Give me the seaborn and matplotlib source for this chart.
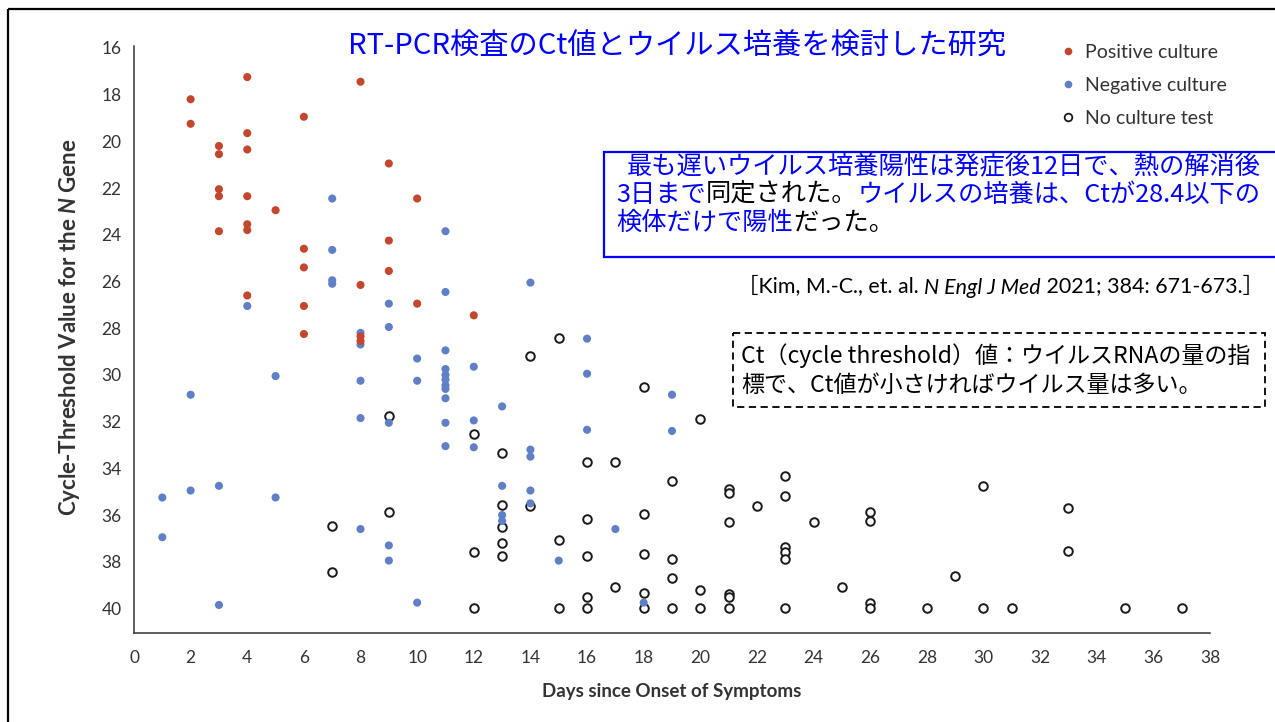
import numpy as np
import pandas as pd
import matplotlib
matplotlib.use("Agg")
import matplotlib.pyplot as plt
import seaborn as sns
from matplotlib.patches import Rectangle
from matplotlib.lines import Line2D

# ---------------- data ----------------
pos_days = [2, 2,
            3, 3, 3, 3, 3,
            4, 4, 4, 4, 4, 4, 4,
            5,
            6, 6, 6, 6, 6,
            8, 8, 8, 8,
            9, 9, 9,
            10, 10,
            12]
pos_ct = [18.2, 19.25,
          20.2, 20.55, 22.05, 22.35, 23.85,
          17.25, 19.65, 20.35, 22.35, 23.55, 23.8, 26.6,
          22.95,
          18.95, 24.6, 25.4, 27.05, 28.25,
          17.45, 26.15, 28.35, 28.55,
          20.95, 24.25, 25.55,
          22.45, 26.95,
          27.45]

neg_days = [1, 1, 2, 2, 3, 3, 4, 5, 5,
            7, 7, 7, 7,
            8, 8, 8, 8, 8,
            9, 9, 9, 9, 9,
            10, 10, 10,
            11, 11, 11, 11, 11, 11, 11, 11, 11, 11, 11,
            12, 12, 12,
            13, 13, 13, 13,
            14, 14, 14, 14, 14,
            15, 16, 16, 16, 17, 18, 19, 19]
neg_ct = [35.25, 36.95, 30.85, 34.95, 34.75, 39.85, 27.05, 30.05, 35.25,
          22.45, 24.65, 25.95, 26.1,
          28.2, 28.7, 30.25, 31.85, 36.6,
          26.95, 27.95, 32.05, 37.3, 37.95,
          29.3, 30.25, 39.75,
          23.85, 26.45, 28.95, 29.75, 30.0, 30.2, 30.45, 30.6, 31.0, 32.05, 33.05,
          29.65, 31.95, 33.1,
          31.35, 34.75, 36.0, 36.25,
          26.05, 33.2, 33.5, 34.95, 35.5,
          37.95, 28.45, 29.95, 32.35, 36.6, 39.75, 30.85, 32.4]

none_days = [7, 7, 9, 9, 12, 12, 12,
             13, 13, 13, 13, 13,
             14, 14, 15, 15, 15,
             16, 16, 16, 16, 16,
             17, 17,
             18, 18, 18, 18, 18,
             19, 19, 19, 19,
             20, 20, 20,
             21, 21, 21, 21, 21, 21,
             22,
             23, 23, 23, 23, 23, 23,
             24, 25,
             26, 26, 26, 26,
             28, 29, 30, 30, 31, 33, 33, 35, 37]
none_ct = [36.45, 38.45, 31.75, 35.85, 32.55, 37.6, 40.0,
           33.35, 35.55, 36.5, 37.2, 37.75,
           29.2, 35.6, 28.4, 37.05, 40.0,
           33.75, 36.15, 37.75, 39.5, 40.0,
           33.75, 39.1,
           30.5, 35.95, 37.65, 39.35, 40.0,
           34.55, 37.9, 38.7, 40.0,
           31.9, 39.2, 40.0,
           34.9, 35.05, 36.3, 39.4, 39.5, 40.0,
           35.6,
           34.35, 35.2, 37.35, 37.6, 37.9, 40.0,
           36.3, 39.1,
           35.85, 36.25, 39.75, 40.0,
           40.0, 38.6, 34.75, 40.0, 40.0, 35.7, 37.55, 40.0, 40.0]

legend_labels = ["Positive culture", "Negative culture", "No culture test"]
x_ticks = list(range(0, 39, 2))
y_ticks = list(range(16, 41, 2))

title_text = "RT-PCR検査のCt値とウイルス培養を検討した研究"
xlabel_text = "Days since Onset of Symptoms"
ylabel_text = r"Cycle-Threshold Value for the $\mathit{N}$ Gene"

# ---------------- style ----------------
RED = "#C4462D"
BLUE = "#5F80C6"
DARK = "#333333"
PURE_BLUE = "#0000FF"
CJK = ["Noto Sans CJK JP", "DejaVu Sans"]

sns.set_theme(style="white")
plt.rcParams["font.family"] = ["Lato", "Noto Sans CJK JP", "DejaVu Sans"]
plt.rcParams["mathtext.fontset"] = "custom"
plt.rcParams["mathtext.it"] = "Lato:italic:bold"
plt.rcParams["mathtext.rm"] = "Lato:bold"

W, H = 1275, 722
fig = plt.figure(figsize=(W / 100, H / 100), dpi=100)
fig.patch.set_facecolor("white")


def fx(px):
    return px / W


def fy(py):
    return 1 - py / H


ax = fig.add_axes([fx(134), fy(633), fx(1210) - fx(134), fy(46) - fy(633)])

df_pos = pd.DataFrame({"day": pos_days, "ct": pos_ct})
df_neg = pd.DataFrame({"day": neg_days, "ct": neg_ct})
df_none = pd.DataFrame({"day": none_days, "ct": none_ct})

sns.scatterplot(data=df_none, x="day", y="ct", ax=ax, s=38, color="white",
                edgecolor="#1a1a1a", linewidth=1.4, zorder=3, legend=False)
sns.scatterplot(data=df_neg, x="day", y="ct", ax=ax, s=34, color=BLUE,
                edgecolor="none", zorder=4, legend=False)
sns.scatterplot(data=df_pos, x="day", y="ct", ax=ax, s=34, color=RED,
                edgecolor="none", zorder=5, legend=False)

ax.set_xlim(0, 38)
ax.set_ylim(41.05, 15.92)
ax.set_xticks(x_ticks)
ax.set_yticks(y_ticks)
ax.set_xlabel("")
ax.set_ylabel("")
sns.despine(ax=ax)
for sp in ["left", "bottom"]:
    ax.spines[sp].set_color(DARK)
    ax.spines[sp].set_linewidth(1.1)
ax.tick_params(axis="x", direction="out", length=6, width=1.1, color=DARK,
               labelsize=12.5, labelcolor=DARK, pad=6)
ax.tick_params(axis="y", direction="out", length=7, width=1.1, color=DARK,
               labelsize=12.5, labelcolor=DARK, pad=2)

# legend
handles = [
    Line2D([], [], marker="o", ls="none", markersize=5.5, markerfacecolor=RED,
           markeredgecolor="none"),
    Line2D([], [], marker="o", ls="none", markersize=5.5, markerfacecolor=BLUE,
           markeredgecolor="none"),
    Line2D([], [], marker="o", ls="none", markersize=5.5, markerfacecolor="white",
           markeredgecolor="#1a1a1a", markeredgewidth=1.3),
]
leg = ax.legend(handles, legend_labels, loc="upper left",
                bbox_to_anchor=(fx(1061), fy(44)), bbox_transform=fig.transFigure,
                frameon=False, fontsize=14, handlelength=0.7, handletextpad=0.55,
                labelspacing=0.83, borderpad=0, borderaxespad=0)
for t in leg.get_texts():
    t.set_color(DARK)

# ---------------- overlay in pixel coordinates ----------------
ov = fig.add_axes([0, 0, 1, 1], zorder=5)
ov.set_xlim(0, W)
ov.set_ylim(H, 0)
ov.axis("off")

# axis labels
ov.text(672, 692, xlabel_text, ha="center", va="center",
        fontsize=13.5, fontweight="bold", color=DARK)
ov.text(70, 327, ylabel_text, ha="center", va="center", rotation=90,
        fontsize=16, fontweight="bold", color=DARK)

# frame around whole figure
ov.add_patch(Rectangle((8, 9), W + 50, H + 50, fill=False, ec="black", lw=1.6,
                       clip_on=False, zorder=10))
# blue box
ov.add_patch(Rectangle((604, 152), W, 105, fc="white", ec=PURE_BLUE, lw=1.6,
                       clip_on=False, zorder=6))
# dashed box
ov.add_patch(Rectangle((733, 333), 532, 74, fc="white", ec="black", lw=1.3,
                       ls=(0, (4, 2.5)), clip_on=False, zorder=6))


def chain(x, y, segments, size, family=CJK):
    """segments: list of (text, color, style); drawn one after another."""
    texts = []
    prev = None
    for s, c, st in segments:
        if prev is None:
            t = ov.annotate(s, xy=(x, y), xycoords="data", ha="left",
                            va="center", fontsize=size, color=c, family=family,
                            style=st, annotation_clip=False, zorder=12)
        else:
            t = ov.annotate(s, xy=(1, 0), xycoords=prev, ha="left",
                            va="bottom", fontsize=size, color=c, family=family,
                            style=st, annotation_clip=False, zorder=12)
        texts.append(t)
        prev = t
    return texts


def fit_block(ref_line, target_width, block, cap=None):
    fig.canvas.draw()
    r = fig.canvas.get_renderer()
    x0 = ref_line[0].get_window_extent(r).x0
    x1 = ref_line[-1].get_window_extent(r).x1
    k = target_width / (x1 - x0)
    for line in block:
        for t in line:
            fs = t.get_fontsize() * k
            if cap is not None:
                fs = min(fs, cap)
            t.set_fontsize(fs)


title = chain(348, 47, [(title_text, PURE_BLUE, "normal")], 20)

b1 = chain(627, 167, [("最も遅いウイルス培養陽性は発症後12日で、熱の解消後", PURE_BLUE, "normal")], 18)
b2 = chain(616, 195, [("3日まで", PURE_BLUE, "normal"),
                      ("同定された。", "black", "normal"),
                      ("ウイルスの培養は、Ctが28.4以下の", PURE_BLUE, "normal")], 18)
b3 = chain(616, 223, [("検体だけで陽性", PURE_BLUE, "normal"),
                      ("だった。", "black", "normal")], 18)

cite_fam = ["Lato", "Noto Sans CJK JP", "DejaVu Sans"]
cite = chain(737, 287, [("［Kim, M.-C., et. al. ", "black", "normal"),
                        ("N Engl J Med", "black", "italic"),
                        (" 2021; 384: 671-673.］", "black", "normal")], 15, family=cite_fam)

d1 = chain(741, 356, [("Ct（cycle threshold）値：ウイルスRNAの量の指", "black", "normal")], 17)
d2 = chain(741, 385, [("標で、Ct値が小さければウイルス量は多い。", "black", "normal")], 17)

fit_block(title, 1005 - 348, [title])
fit_block(b1, 1262 - 627, [b1, b2, b3], cap=18.4)
fit_block(cite, 1265 - 737, [cite])
fit_block(d1, 1250 - 741, [d1, d2])

fig.savefig("out.png", dpi=100, facecolor="white")
